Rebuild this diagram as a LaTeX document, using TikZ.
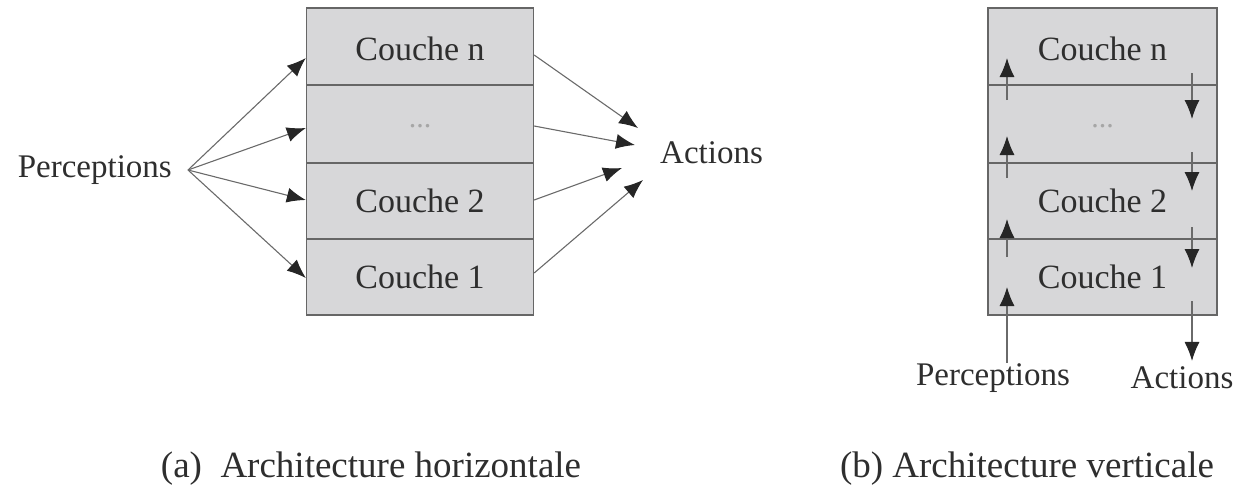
\documentclass[tikz,border=0pt]{standalone}
\usepackage{fontspec}
\setmainfont{Liberation Serif}
\usetikzlibrary{arrows.meta,calc}
\definecolor{layerfill}{HTML}{D7D7D9}
\definecolor{layerline}{HTML}{666666}
\definecolor{wire}{HTML}{6A6A6A}
\definecolor{ink}{HTML}{2E2E2E}
\tikzset{
  layer/.style={draw=layerline, line width=1.3pt, fill=layerfill, minimum width=227pt,
    inner sep=0pt, text depth=0pt, font=\fontsize{34}{34}\selectfont, text=ink},
  label/.style={inner sep=0pt, font=\fontsize{33}{33}\selectfont, text=ink},
  caption/.style={inner sep=0pt, font=\fontsize{37}{37}\selectfont, text=ink},
  flow/.style={draw=wire, line width=1.1pt, -{Latex[length=19pt,width=15pt,color=black!85]}},
}
\newcommand{\layerdots}{\raisebox{-3pt}{\textcolor{black!35}{\fontsize{30}{30}\selectfont ...}}}
\begin{document}
\begin{tikzpicture}[x=1pt,y=-1pt]
\useasboundingbox (0,0) rectangle (1245,485);

% ---------- (a) horizontal architecture ----------
\node[layer, minimum height=77pt] (hn) at (420,46.5) {\raisebox{-4pt}{Couche n}};
\node[layer, minimum height=78pt] (hd) at (420,124) {\layerdots};
\node[layer, minimum height=76pt] (h2) at (420,201) {Couche 2};
\node[layer, minimum height=76pt] (h1) at (420,277) {Couche 1};

\node[label, anchor=base east] (pa) at (172,177) {Perceptions};
\coordinate (pfan) at (188,170);
\node[label, anchor=base west] (aa) at (660,163) {Actions};

\draw[flow] (pfan) -- ($(hn.west)+(0,11.5)$);
\draw[flow] (pfan) -- ($(hd.west)+(0,4)$);
\draw[flow] (pfan) -- ($(h2.west)+(0,-1)$);
\draw[flow] (pfan) -- ($(h1.west)+(0,1)$);

\coordinate (t1) at (638,128);
\coordinate (t2) at (635,145);
\coordinate (t3) at (622,168);
\coordinate (t4) at (643,180);
\draw[flow] ($(hn.east)+(0,8.5)$) -- (t1);
\draw[flow] ($(hd.east)+(0,2)$) -- (t2);
\draw[flow] ($(h2.east)+(0,-1)$) -- (t3);
\draw[flow] ($(h1.east)+(0,-4)$) -- (t4);

\node[caption, anchor=base] (capa) at (371,477) {(a)\ \ Architecture horizontale};

% ---------- (b) vertical architecture ----------
\node[layer, minimum height=77pt, minimum width=229pt] (vn) at (1102.5,46.5) {\raisebox{-4pt}{Couche n}};
\node[layer, minimum height=78pt, minimum width=229pt] (vd) at (1102.5,124) {\layerdots};
\node[layer, minimum height=76pt, minimum width=229pt] (v2) at (1102.5,201) {Couche 2};
\node[layer, minimum height=76pt, minimum width=229pt] (v1) at (1102.5,277) {Couche 1};

\node[label, anchor=base] (pb) at (993,385) {Perceptions};
\node[label, anchor=base] (ab) at (1182,388) {Actions};

% upward perception flow on the left side
\coordinate (u1b) at (1007,287);
\coordinate (u2a) at (1007,257);
\coordinate (u2b) at (1007,219);
\coordinate (u3a) at (1007,178);
\coordinate (u3b) at (1007,136);
\coordinate (u4a) at (1007,100);
\coordinate (u4b) at (1007,58);
\draw[flow] (pb.north -| u1b) -- (u1b);
\draw[flow] (u2a) -- (u2b);
\draw[flow] (u3a) -- (u3b);
\draw[flow] (u4a) -- (u4b);

% downward action flow on the right side
\coordinate (d1a) at (1192,73);
\coordinate (d1b) at (1192,119);
\coordinate (d2a) at (1192,152);
\coordinate (d2b) at (1192,191);
\coordinate (d3a) at (1192,227);
\coordinate (d3b) at (1192,268);
\coordinate (d4a) at (1192,301);
\draw[flow] (d1a) -- (d1b);
\draw[flow] (d2a) -- (d2b);
\draw[flow] (d3a) -- (d3b);
\draw[flow, shorten >=5pt] (d4a) -- (d4a |- ab.north);

\node[caption, anchor=base] (capb) at (1027,477) {(b) Architecture verticale};
\end{tikzpicture}
\end{document}
